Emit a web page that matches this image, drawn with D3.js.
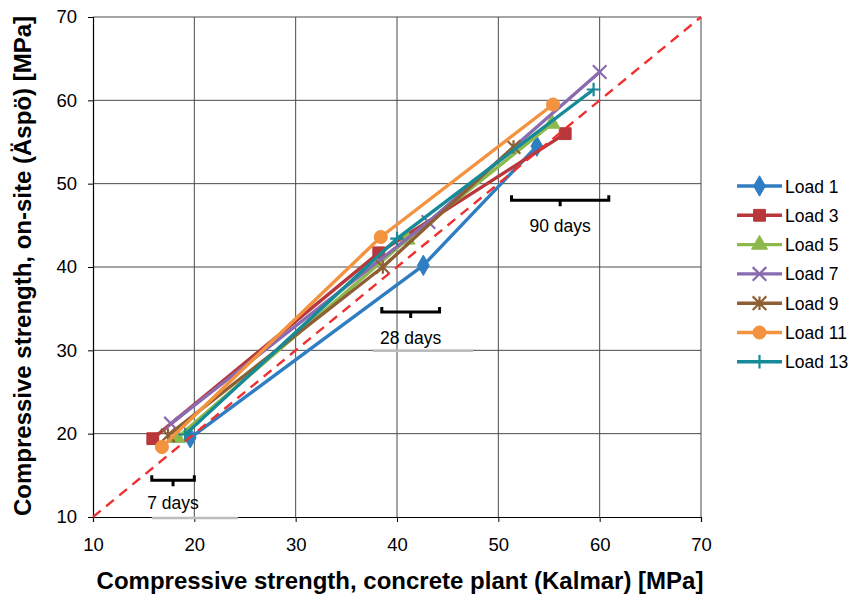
<!DOCTYPE html>
<html>
<head>
<meta charset="utf-8">
<script src="https://cdn.jsdelivr.net/npm/d3@7"></script>
<style>
  html, body { margin: 0; padding: 0; background: #fff; }
  svg { display: block; font-family: "Liberation Sans", Arial, sans-serif; }
</style>
</head>
<body>
<svg id="chart" width="851" height="598"></svg>
<script>
// Compressive strength per load: [7 days, 28 days, 90 days]
const loads = ["Load 1", "Load 3", "Load 5", "Load 7", "Load 9", "Load 11", "Load 13"];
const plantStrength = [   // x: concrete plant (Kalmar), MPa
  [19.6, 42.6, 53.8],
  [15.9, 38.2, 56.6],
  [18.3, 41.0, 55.3],
  [17.7, 43.1, 60.0],
  [17.4, 38.6, 51.5],
  [16.8, 38.4, 55.4],
  [19.1, 40.0, 59.4]
];
const siteStrength = [    // y: on-site (Äspö), MPa
  [19.5, 40.2, 54.5],
  [19.4, 41.7, 56.0],
  [19.5, 43.3, 57.2],
  [21.2, 45.4, 63.4],
  [19.8, 40.0, 54.4],
  [18.4, 43.6, 59.5],
  [19.9, 43.4, 61.3]
];
const colors = ["#2F7DC2", "#B7373A", "#8DB94C", "#8A6BB0", "#8F5F34", "#F39340", "#168A96"];
const symbols = ["diamond", "square", "triangle", "x", "asterisk", "circle", "plus"];
const ticks = [10, 20, 30, 40, 50, 60, 70];
const ageLabels = ["7 days", "28 days", "90 days"];
// bracket spans (x in MPa) and level (y in MPa) for the age annotations
const bracketFrom = [15.8, 38.5, 51.3];
const bracketTo   = [20.0, 44.2, 60.9];
const bracketY    = [14.4, 34.6, 48.0];
// text box frames under the labels (x span in MPa)
const boxFrom = [15.8, 37.6];
const boxTo   = [24.3, 47.5];

const svg = d3.select("#chart");
const L = 93, R = 701, T = 17, B = 517;
const x = d3.scaleLinear().domain([10, 70]).range([L, R]);
const y = d3.scaleLinear().domain([10, 70]).range([B, T]);

// gridlines
const grid = svg.append("g");
grid.selectAll("line.v").data(ticks.slice(1)).join("line")
  .attr("x1", d => x(d)).attr("x2", d => x(d)).attr("y1", T).attr("y2", B)
  .attr("stroke", "#4a4a4a").attr("stroke-width", 1);
grid.selectAll("line.h").data(ticks.slice(1)).join("line")
  .attr("x1", L).attr("x2", R).attr("y1", d => y(d)).attr("y2", d => y(d))
  .attr("stroke", "#4a4a4a").attr("stroke-width", 1);

// axes
const xAxis = svg.append("g").attr("transform", `translate(0,${B})`)
  .call(d3.axisBottom(x).tickValues(ticks).tickSize(5).tickPadding(16));
const yAxis = svg.append("g").attr("transform", `translate(${L},0)`)
  .call(d3.axisLeft(y).tickValues(ticks).tickSize(5).tickPadding(11));
[xAxis, yAxis].forEach(a => {
  a.select(".domain").attr("stroke", "#000").attr("stroke-width", 1.2);
  a.selectAll(".tick line").attr("stroke", "#000");
  a.selectAll(".tick text").attr("font-size", 18.5).attr("fill", "#000")
    .attr("font-family", "Liberation Sans, Arial, sans-serif");
});

// light frames left under the 7- and 28-day labels
boxFrom.forEach((v, i) => {
  const yy = i === 0 ? y(10) + 1 : y(30) + 0.5;
  svg.append("line").attr("x1", x(v)).attr("x2", x(boxTo[i])).attr("y1", yy).attr("y2", yy)
    .attr("stroke", "#bdbdbd").attr("stroke-width", 2.5);
});

// age annotations: bracket + label
ageLabels.forEach((lab, i) => {
  const x0 = x(bracketFrom[i]), x1 = x(bracketTo[i]), yy = y(bracketY[i]);
  const xm = (x0 + x1) / 2;
  const g = svg.append("g");
  g.append("path")
    .attr("d", `M${x0},${yy - 5} L${x0},${yy} L${x1},${yy} L${x1},${yy - 5} M${xm},${yy} L${xm},${yy + 6}`)
    .attr("fill", "none").attr("stroke", "#000").attr("stroke-width", 3);
  g.append("text").attr("x", xm).attr("y", yy + (i === 0 ? 29 : 32)).attr("text-anchor", "middle")
    .attr("font-size", 17.5).attr("fill", "#000").text(lab);
});

// series lines and markers
const symType = {
  diamond: d3.symbolDiamond, square: d3.symbolSquare, triangle: d3.symbolTriangle,
  circle: d3.symbolCircle
};
function drawMarker(g, kind, color, cx, cy) {
  if (symType[kind]) {
    const area = {diamond: 120, square: 140, triangle: 110, circle: 135}[kind];
    g.append("path").attr("d", d3.symbol(symType[kind], area)())
      .attr("transform", `translate(${cx},${cy})`).attr("fill", color).attr("stroke", color);
  } else {
    const r = 6.8;
    let d;
    if (kind === "x") d = `M${-r},${-r}L${r},${r}M${-r},${r}L${r},${-r}`;
    else if (kind === "plus") d = `M${-r},0L${r},0M0,${-r}L0,${r}`;
    else d = `M${-r},${-r}L${r},${r}M${-r},${r}L${r},${-r}M0,${-r}L0,${r}`;
    g.append("path").attr("d", d).attr("transform", `translate(${cx},${cy})`)
      .attr("fill", "none").attr("stroke", color).attr("stroke-width", 2.2);
  }
}
const line = d3.line().x(d => x(d[0])).y(d => y(d[1]));
loads.forEach((name, i) => {
  const pts = plantStrength[i].map((v, j) => [v, siteStrength[i][j]]);
  const g = svg.append("g");
  g.append("path").attr("d", line(pts)).attr("fill", "none")
    .attr("stroke", colors[i]).attr("stroke-width", 3.4).attr("stroke-linejoin", "round");
  pts.forEach(p => drawMarker(g, symbols[i], colors[i], x(p[0]), y(p[1])));
});

// line of equality
svg.append("line")
  .attr("x1", x(10)).attr("y1", y(10)).attr("x2", x(70)).attr("y2", y(70))
  .attr("stroke", "#EE3030").attr("stroke-width", 2.4).attr("stroke-dasharray", "10,7");

// axis titles
svg.append("text").attr("x", 400).attr("y", 589).attr("text-anchor", "middle")
  .attr("font-size", 24).attr("font-weight", "bold").attr("fill", "#000")
  .text("Compressive strength, concrete plant (Kalmar) [MPa]");
svg.append("text").attr("transform", `translate(31,266) rotate(-90)`)
  .attr("text-anchor", "middle")
  .attr("font-size", 24).attr("font-weight", "bold").attr("fill", "#000")
  .text("Compressive strength, on-site (Äspö) [MPa]");

// legend
const legend = svg.append("g");
loads.forEach((name, i) => {
  const ly = 186 + i * 29.3;
  legend.append("line").attr("x1", 737).attr("x2", 782).attr("y1", ly).attr("y2", ly)
    .attr("stroke", colors[i]).attr("stroke-width", 3.4);
  drawMarker(legend, symbols[i], colors[i], 759.5, ly);
  legend.append("text").attr("x", 785).attr("y", ly + 6.5).attr("font-size", 17.5)
    .attr("fill", "#000").text(name);
});
</script>
</body>
</html>
